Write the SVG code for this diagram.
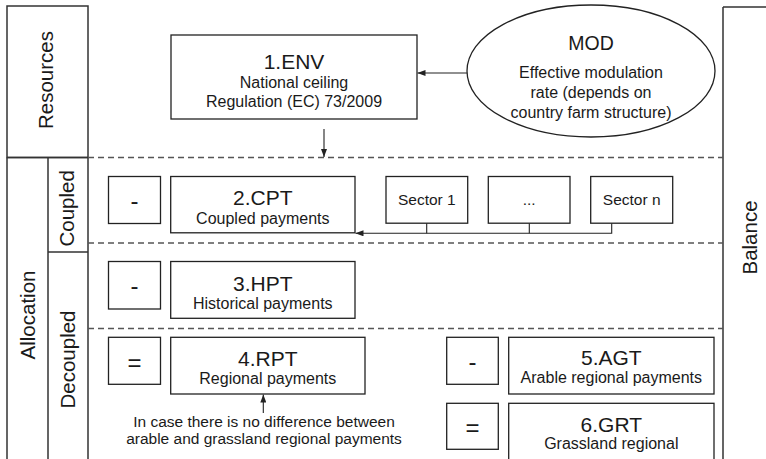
<svg xmlns="http://www.w3.org/2000/svg" width="766" height="459" viewBox="0 0 766 459">
  <defs>
    <style>
      .frame{fill:none;stroke:#333;stroke-width:1.5}
      .box{fill:#fff;stroke:#222;stroke-width:1.3}
      .sep{fill:none;stroke:#555;stroke-width:1.3;stroke-dasharray:6 4}
      .wire{fill:none;stroke:#222;stroke-width:1.1}
      text{font-family:"Liberation Sans",Arial,Helvetica,sans-serif;fill:#1a1a1a;text-anchor:middle}
      .side{font-size:20.5px}
      .title{font-size:21px}
      .sub{font-size:16px}
      .note{font-size:15.5px}
      .sign{font-size:24px}
    </style>
    <marker id="arrow" viewBox="0 0 8 6" markerWidth="8" markerHeight="6" refX="8" refY="3" orient="auto" markerUnits="userSpaceOnUse">
      <path d="M0,0 L8,3 L0,6 z" fill="#222"/>
    </marker>
  </defs>

  <rect width="766" height="459" fill="#fff"/>

  <!-- side columns -->
  <g id="columns">
    <rect class="frame" x="7" y="6" width="81" height="151.5"/>
    <path class="frame" d="M7,157.5 V462 M88,157.5 V462 M48,157.5 V462 M48,252 H88 M7,157.5 H88"/>
    <path class="frame" d="M723,7 V462 M723,7 H768"/>
    <text class="side" transform="translate(53,80) rotate(-90)">Resources</text>
    <text class="side" transform="translate(74,208.3) rotate(-90)">Coupled</text>
    <text class="side" transform="translate(35,315) rotate(-90)">Allocation</text>
    <text class="side" transform="translate(74.7,359.5) rotate(-90)">Decoupled</text>
    <text class="side" transform="translate(757,237.5) rotate(-90)">Balance</text>
  </g>

  <!-- band separators -->
  <g id="separators">
    <line class="sep" x1="88" y1="157.5" x2="723" y2="157.5"/>
    <line class="sep" x1="88" y1="243" x2="723" y2="243"/>
    <line class="sep" x1="88" y1="328.5" x2="723" y2="328.5"/>
  </g>

  <!-- connectors -->
  <g id="connectors">
    <line class="wire" x1="467" y1="73" x2="417.5" y2="73" marker-end="url(#arrow)"/>
    <line class="wire" x1="324" y1="129" x2="324" y2="157" marker-end="url(#arrow)"/>
    <path class="wire" d="M611.7,223.2 V233.3 H355.5" marker-end="url(#arrow)"/>
    <path class="wire" d="M426.7,223.2 V233.3 M529.3,223.2 V233.3"/>
    <line class="wire" x1="263.3" y1="413" x2="263.3" y2="394.5" marker-end="url(#arrow)"/>
  </g>

  <g id="env">
    <rect class="box" x="171" y="35" width="246" height="84"/>
    <text class="title" x="294" y="69">1.ENV</text>
    <text class="sub" x="294" y="88">National ceiling</text>
    <text class="sub" x="294" y="107">Regulation (EC) 73/2009</text>
  </g>

  <g id="mod">
    <ellipse class="box" cx="591" cy="71" rx="124" ry="66"/>
    <text x="591" y="50" style="font-size:19.5px">MOD</text>
    <text class="sub" x="591" y="77.5">Effective modulation</text>
    <text class="sub" x="591" y="97.5">rate (depends on</text>
    <text class="sub" x="591" y="117.5">country farm structure)</text>
  </g>

  <g id="cpt-sign">
    <rect class="box" x="108.5" y="176.5" width="52" height="47"/>
    <text class="sign" x="134.5" y="209">-</text>
  </g>
  <g id="cpt">
    <rect class="box" x="170.7" y="176.5" width="184.3" height="56.3"/>
    <text class="title" x="262.8" y="205">2.CPT</text>
    <text class="sub" x="262.8" y="224">Coupled payments</text>
  </g>

  <g id="sector-1">
    <rect class="box" x="386" y="176.5" width="81.7" height="46.7"/>
    <text class="note" x="426.8" y="205">Sector 1</text>
  </g>
  <g id="sector-dots">
    <rect class="box" x="488.3" y="176.5" width="81.7" height="46.7"/>
    <text class="note" x="529.2" y="205">...</text>
  </g>
  <g id="sector-n">
    <rect class="box" x="590.7" y="176.5" width="82" height="46.7"/>
    <text class="note" x="631.7" y="205">Sector n</text>
  </g>

  <g id="hpt-sign">
    <rect class="box" x="108.5" y="261.5" width="52" height="47.5"/>
    <text class="sign" x="134.5" y="294.3">-</text>
  </g>
  <g id="hpt">
    <rect class="box" x="170.7" y="261.5" width="184.3" height="56.8"/>
    <text class="title" x="262.8" y="290.7">3.HPT</text>
    <text class="sub" x="262.8" y="309">Historical payments</text>
  </g>

  <g id="rpt-sign">
    <rect class="box" x="108.5" y="337.3" width="52" height="47"/>
    <text class="sign" x="134.5" y="370.6">=</text>
  </g>
  <g id="rpt">
    <rect class="box" x="170.7" y="337.3" width="194.3" height="56.7"/>
    <text class="title" x="267.8" y="366">4.RPT</text>
    <text class="sub" x="267.8" y="384">Regional payments</text>
  </g>

  <g id="rpt-note">
    <text class="note" x="264" y="426.7">In case there is no difference between</text>
    <text class="note" x="264" y="444">arable and grassland regional payments</text>
  </g>

  <g id="agt-sign">
    <rect class="box" x="446.7" y="337.3" width="51.6" height="47"/>
    <text class="sign" x="472.5" y="369.5">-</text>
  </g>
  <g id="agt">
    <rect class="box" x="508.7" y="337.3" width="205.3" height="56.7"/>
    <text class="title" x="611.3" y="365">5.AGT</text>
    <text class="sub" x="611.3" y="383.3">Arable regional payments</text>
  </g>

  <g id="grt-sign">
    <rect class="box" x="446.7" y="403.3" width="51.6" height="46"/>
    <text class="sign" x="472.5" y="436.2">=</text>
  </g>
  <g id="grt">
    <rect class="box" x="508.7" y="403.3" width="205.3" height="70"/>
    <text class="title" x="611.3" y="431.7">6.GRT</text>
    <text class="sub" x="611.3" y="449.3">Grassland regional</text>
  </g>
</svg>
